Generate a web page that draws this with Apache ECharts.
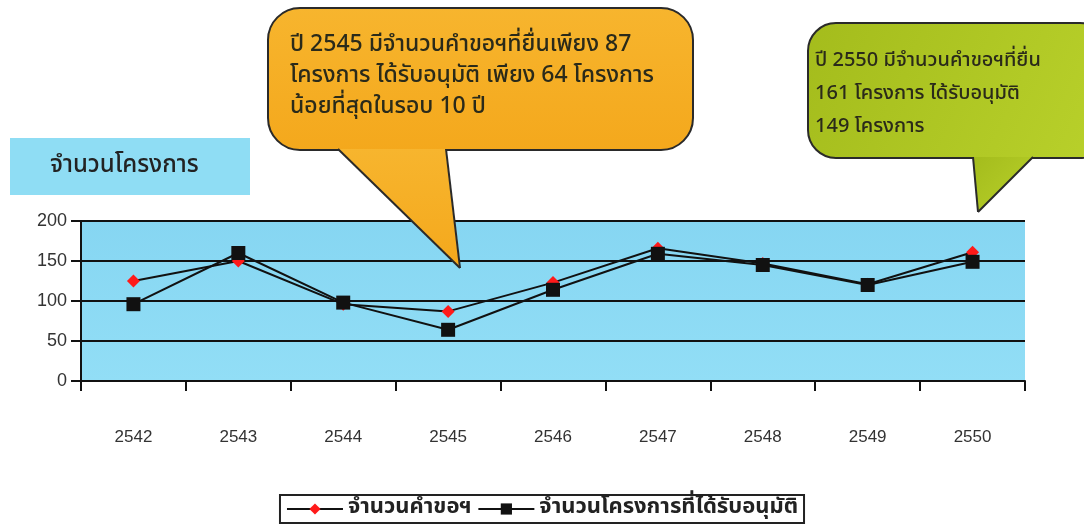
<!DOCTYPE html>
<html><head><meta charset="utf-8">
<script src="https://cdn.jsdelivr.net/npm/echarts@6/dist/echarts.min.js"></script>
<style>html,body{margin:0;padding:0;background:#fff}#c{width:1084px;height:529px}</style>
</head><body><div id="c"></div>
<script>
const categories = ['2542','2543','2544','2545','2546','2547','2548','2549','2550'];
const requests = [125, 150, 96, 87, 123, 166, 147, 121, 161];
const approved = [96, 160, 98, 64, 114, 159, 145, 120, 149];
const yTicks = {min: 0, max: 200, interval: 50};
const seriesNames = ['จำนวนคำขอฯ', 'จำนวนโครงการที่ได้รับอนุมัติ'];
const titleText = 'จำนวนโครงการ';
const note1 = ['ปี 2545 มีจำนวนคำขอฯที่ยื่นเพียง 87', 'โครงการ ได้รับอนุมัติ เพียง 64 โครงการ', 'น้อยที่สุดในรอบ 10 ปี'];
const note2 = ['ปี 2550 มีจำนวนคำขอฯที่ยื่น', '161 โครงการ ได้รับอนุมัติ', '149 โครงการ'];

const FONT = '"Noto Sans Thai", "Noto Sans", "DejaVu Sans", sans-serif';
const chart = echarts.init(document.getElementById('c'));

function bubble(x, y, w, h, r, tail, fill, lines, tx, ty, lh, fs) {
  const g = [];
  g.push({type:'rect', shape:{x:x, y:y, width:w, height:h, r:r}, style:{fill:fill, stroke:'#2a2a2a', lineWidth:2}, z:10});
  g.push({type:'polygon', shape:{points:tail}, style:{fill:fill, stroke:null}, z:11});
  g.push({type:'polyline', shape:{points:[tail[0], tail[1]]}, style:{stroke:'#2a2a2a', lineWidth:2, fill:null}, z:12});
  g.push({type:'polyline', shape:{points:[tail[1], tail[2]]}, style:{stroke:'#2a2a2a', lineWidth:2, fill:null}, z:12});
  lines.forEach((t, i) => {
    g.push({type:'text', x:tx, y:ty + i*lh, style:{text:t, fill:'#2a2a1a', font:'500 ' + fs + 'px ' + FONT, textVerticalAlign:'middle'}, z:13});
  });
  return g;
}

const orangeFill = new echarts.graphic.LinearGradient(0,0,0,1,[{offset:0,color:'#F7B52E'},{offset:1,color:'#F4A81C'}]);
const greenFill = new echarts.graphic.LinearGradient(0,0,1,1,[{offset:0,color:'#A4BC1C'},{offset:1,color:'#B9D12B'}]);

const graphics = [].concat(
  [{type:'rect', shape:{x:10, y:138, width:240, height:57}, style:{fill:'#8FDDF4'}, z:5},
   {type:'text', x:50, y:167, style:{text:titleText, fill:'#222', font:'500 24px ' + FONT, textVerticalAlign:'middle'}, z:6}],
  bubble(268, 8, 425, 142, 32, [[338,149],[460,268],[446,149]], orangeFill, note1, 290, 46, 31, 23),
  bubble(808, 23, 300, 135, 28, [[973,157],[978,212],[1033,157]], greenFill, note2, 815, 62, 33, 20)
);

chart.setOption({
  animation: false,
  backgroundColor: '#fff',
  grid: {left: 81, top: 221, width: 944, height: 160, show: true,
    backgroundColor: new echarts.graphic.LinearGradient(0,0,0,1,[{offset:0,color:'#86D6F2'},{offset:1,color:'#92DEF6'}]),
    borderWidth: 0},
  legend: {
    data: seriesNames, bottom: 6, left: 'center',
    borderColor: '#222', borderWidth: 2, padding: [3, 6],
    itemWidth: 56, itemHeight: 14, itemGap: 6,
    textStyle: {fontFamily: FONT, fontSize: 22, fontWeight: 'bold', color: '#222'}
  },
  xAxis: {
    type: 'category', data: categories, boundaryGap: true,
    axisLine: {lineStyle: {color: '#111', width: 2}},
    axisTick: {show: true, length: 10, lineStyle: {color: '#111', width: 2}},
    axisLabel: {margin: 48, fontSize: 17, color: '#333', fontFamily: '"Liberation Sans Narrow", "Liberation Sans", sans-serif'}
  },
  yAxis: {
    type: 'value', min: yTicks.min, max: yTicks.max, interval: yTicks.interval,
    axisLine: {show: true, lineStyle: {color: '#111', width: 2}},
    axisTick: {show: true, length: 10, lineStyle: {color: '#111', width: 2}},
    splitLine: {lineStyle: {color: '#111', width: 2}},
    axisLabel: {fontSize: 18, color: '#333', margin: 14, fontFamily: '"Liberation Sans", sans-serif'}
  },
  series: [
    {name: seriesNames[0], type: 'line', data: requests, symbol: 'diamond', symbolSize: 13,
     lineStyle: {color: '#111', width: 2}, itemStyle: {color: '#FF1A1A', borderWidth: 0}, z: 3},
    {name: seriesNames[1], type: 'line', data: approved, symbol: 'rect', symbolSize: 14,
     lineStyle: {color: '#111', width: 2}, itemStyle: {color: '#111'}, z: 4}
  ],
  graphic: graphics
});
</script></body></html>
